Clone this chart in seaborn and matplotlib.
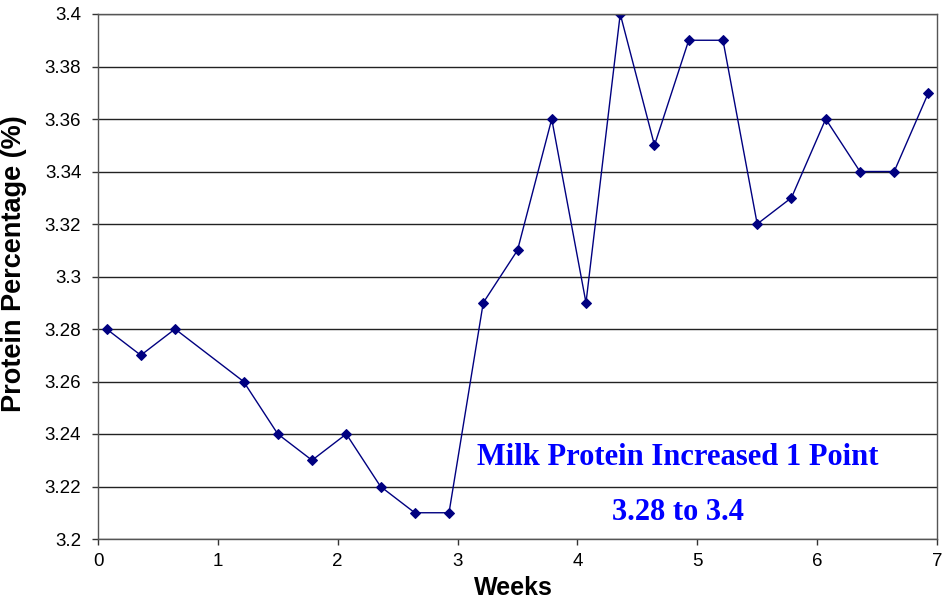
import numpy as np
import pandas as pd
import matplotlib
matplotlib.use("Agg")
import matplotlib.pyplot as plt
import seaborn as sns

# sample day (mid-day) converted to weeks
days = [0.5, 2.5, 4.5, 8.5, 10.5, 12.5, 14.5, 16.5, 18.5, 20.5, 22.5, 24.5,
        26.5, 28.5, 30.5, 32.5, 34.5, 36.5, 38.5, 40.5, 42.5, 44.5, 46.5, 48.5]
protein = [3.28, 3.27, 3.28, 3.26, 3.24, 3.23, 3.24, 3.22, 3.21, 3.21, 3.29, 3.31,
           3.36, 3.29, 3.40, 3.35, 3.39, 3.39, 3.32, 3.33, 3.36, 3.34, 3.34, 3.37]
x_ticks = [0, 1, 2, 3, 4, 5, 6, 7]
y_ticks = [3.2, 3.22, 3.24, 3.26, 3.28, 3.3, 3.32, 3.34, 3.36, 3.38, 3.4]
y_labels = ["3.2", "3.22", "3.24", "3.26", "3.28", "3.3", "3.32", "3.34", "3.36", "3.38", "3.4"]

df = pd.DataFrame({"Weeks": np.array(days) / 7.0, "Protein": protein})

sns.set_style("white")
plt.rcParams["font.family"] = ["Liberation Sans", "DejaVu Sans"]
plt.rcParams["text.color"] = "black"
plt.rcParams["axes.labelcolor"] = "black"

fig = plt.figure(figsize=(9.5, 6.02), dpi=100)
ax = fig.add_axes([98 / 950, 1 - 539 / 602, (937 - 98) / 950, (539 - 14) / 602])

sns.lineplot(data=df, x="Weeks", y="Protein", ax=ax, color="#000080",
             linewidth=1.0, marker="D", markersize=5.5, markeredgecolor="#000080")

ax.set_xlim(0, 7)
ax.set_ylim(3.2, 3.4)
ax.set_xticks(x_ticks)
ax.set_yticks(y_ticks)
ax.set_yticklabels(y_labels)
ax.tick_params(axis="both", labelsize=13.5, length=4, width=1, color="#333333",
               labelcolor="black", direction="out", bottom=True, left=True)
ax.tick_params(axis="x", pad=6)
ax.tick_params(axis="y", pad=8)
for v in y_ticks:
    ax.axhline(v, color="#222222", linewidth=1.0, zorder=0)
for s in ax.spines.values():
    s.set_color("#555555")
    s.set_linewidth(1.0)

ax.set_xlabel("Weeks", fontsize=18, fontweight="bold")
ax.set_ylabel("Protein Percentage (%)", fontsize=19.5, fontweight="bold")
ax.xaxis.set_label_coords(0.495, -0.07)
ax.yaxis.set_label_coords(-0.085, 0.524)

txt = dict(ha="center", va="center", color="#0000FF", fontsize=22,
           fontweight="bold", family=["Liberation Serif", "DejaVu Serif"])
ax.text(4.84, 3.231, "Milk Protein Increased 1 Point", **txt)
ax.text(4.84, 3.210, "3.28 to 3.4", **txt)

fig.savefig("out.png", dpi=100)
